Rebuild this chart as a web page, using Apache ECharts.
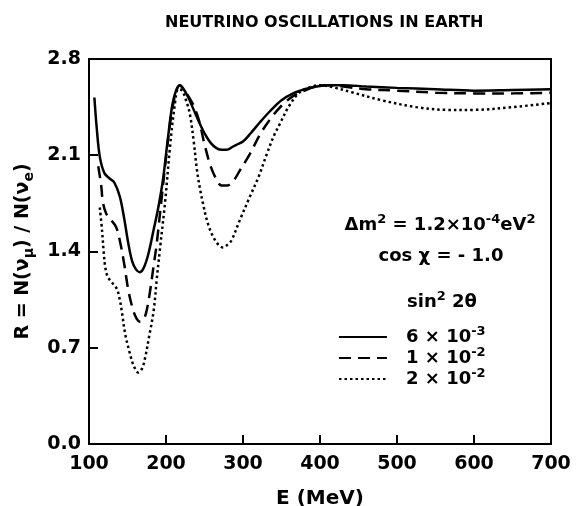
<!DOCTYPE html>
<html><head><meta charset="utf-8">
<script src="https://cdn.jsdelivr.net/npm/echarts@6/dist/echarts.min.js"></script>
<style>html,body{margin:0;padding:0;background:#fff}#c{width:576px;height:506px}</style>
</head><body><div id="c"></div>
<script>
const xTickLabels = ['100','200','300','400','500','600','700'];
const yTickLabels = ['0.0','0.7','1.4','2.1','2.8'];
const legendMant = ['6','1','2'];
const legendExp = ['-3','-2','-2'];
const seriesNames = ['6×10⁻³','1×10⁻²','2×10⁻²'];

const solidE = [107,110,114,120,127,133,140,146,151,156,161,166,171,177,184,190,196,202,208,213,218,223,229,236,243,250,258,266,273,279,286,293,300,310,322,335,350,365,380,395,410,430,460,500,550,600,650,700];
const solidR = [2.52,2.30,2.09,1.97,1.93,1.90,1.80,1.63,1.46,1.33,1.27,1.25,1.28,1.38,1.56,1.72,1.92,2.20,2.46,2.57,2.61,2.58,2.52,2.43,2.34,2.26,2.19,2.15,2.14,2.14,2.16,2.18,2.20,2.26,2.34,2.42,2.50,2.55,2.58,2.60,2.61,2.61,2.60,2.59,2.58,2.57,2.575,2.58];

const dashE = [112,114,116,118,122,127,135,140,146,151,157,162,166,170,174,179,184,188,194,200,206,212,218,224,230,236,243,250,258,266,272,279,287,296,309,322,335,350,365,380,395,410,430,460,500,550,600,650,700];
const dashR = [2.02,1.95,1.87,1.76,1.68,1.64,1.58,1.48,1.30,1.12,0.98,0.91,0.89,0.90,0.95,1.10,1.30,1.46,1.77,2.08,2.36,2.54,2.61,2.57,2.52,2.46,2.35,2.18,2.02,1.92,1.88,1.88,1.91,1.99,2.11,2.25,2.36,2.46,2.53,2.57,2.60,2.61,2.60,2.58,2.57,2.555,2.55,2.55,2.555];

const dotE = [114,117,119,121,124,129,136,140,143,147,153,158,164,169,173,178,184,188,192,199,205,211,216,221,226,231,236,240,244,248,254,261,268,274,280,285,296,309,320,331,340,348,360,374,390,400,420,440,480,525,565,600,650,700];
const dotR = [1.72,1.55,1.40,1.29,1.22,1.18,1.13,1.05,0.95,0.80,0.66,0.57,0.52,0.55,0.63,0.78,0.97,1.20,1.41,1.77,2.15,2.45,2.58,2.57,2.50,2.40,2.20,2.00,1.86,1.75,1.61,1.51,1.45,1.43,1.45,1.48,1.63,1.80,1.94,2.11,2.24,2.33,2.46,2.56,2.60,2.61,2.59,2.56,2.50,2.45,2.43,2.43,2.45,2.48];

const F = 'DejaVu Sans';
const pair = (e, r) => e.map((v, i) => [v, r[i]]);
const supRich = {
  n: {fontFamily: F, fontSize: 18, fontWeight: 'bold', color: '#000', lineHeight: 24},
  p: {fontFamily: F, fontSize: 13, fontWeight: 'bold', color: '#000', lineHeight: 13, verticalAlign: 'top'}
};
const chart = echarts.init(document.getElementById('c'));
chart.setOption({
  animation: false,
  backgroundColor: '#fff',
  title: {
    text: 'NEUTRINO OSCILLATIONS IN EARTH', left: 160, top: 10,
    textStyle: {fontFamily: F, fontSize: 16, fontWeight: 'bold', color: '#000'}
  },
  grid: {left: 89, right: 25, top: 59, bottom: 62, show: true, borderColor: '#000', borderWidth: 2,
    containLabel: false, outerBoundsMode: 'none'},
  xAxis: {
    type: 'value', min: 100, max: 700, interval: 100,
    name: 'E (MeV)', nameLocation: 'middle', nameGap: 45,
    nameTextStyle: {fontFamily: F, fontSize: 20, fontWeight: 'bold', color: '#000'},
    axisLine: {show: true, lineStyle: {color: '#000', width: 2}},
    axisTick: {show: true, inside: true, length: 9, lineStyle: {color: '#000', width: 2}},
    splitLine: {show: false},
    axisLabel: {margin: 11, fontFamily: F, fontSize: 19, fontWeight: 'bold', color: '#000',
      formatter: (v) => xTickLabels[Math.round((v - 100) / 100)]}
  },
  yAxis: {
    type: 'value', min: 0, max: 2.8, interval: 0.7,
    name: '{n|R = N(ν}{s|μ}{n|) / N(ν}{s|e}{n|)}', nameLocation: 'middle', nameGap: 50,
    nameTextStyle: {color: '#000', rich: {
      n: {fontFamily: F, fontSize: 19, fontWeight: 'bold', color: '#000', lineHeight: 26},
      s: {fontFamily: F, fontSize: 14, fontWeight: 'bold', color: '#000', lineHeight: 14, verticalAlign: 'bottom'}
    }},
    axisLine: {show: true, lineStyle: {color: '#000', width: 2}},
    axisTick: {show: true, inside: true, length: 9, lineStyle: {color: '#000', width: 2}},
    splitLine: {show: false},
    axisLabel: {margin: 8, fontFamily: F, fontSize: 19, fontWeight: 'bold', color: '#000',
      formatter: (v) => yTickLabels[Math.round(v / 0.7)]}
  },
  legend: {
    orient: 'vertical', left: 333, top: 320, itemWidth: 48, itemHeight: 14, itemGap: 0,
    itemStyle: {opacity: 0},
    textStyle: {color: '#000', padding: [0, 0, 0, 14], rich: supRich},
    formatter: (name) => {
      const i = seriesNames.indexOf(name);
      return '{n|' + legendMant[i] + ' × 10}{p|' + legendExp[i] + '}';
    },
    data: seriesNames
  },
  graphic: [
    {type: 'text', x: 440, y: 225, style: {text: '{n|Δm}{p|2}{n| = 1.2×10}{p|-4}{n|eV}{p|2}', rich: supRich, align: 'center', verticalAlign: 'middle'}},
    {type: 'text', x: 441, y: 256, style: {text: 'cos χ = - 1.0', align: 'center', verticalAlign: 'middle', font: 'bold 18px "DejaVu Sans"', fill: '#000'}},
    {type: 'text', x: 442, y: 302, style: {text: '{n|sin}{p|2}{n| 2θ}', rich: supRich, align: 'center', verticalAlign: 'middle'}}
  ],
  series: [
    {name: seriesNames[0], type: 'line', data: pair(solidE, solidR), smooth: 0.35, showSymbol: false, symbol: 'none',
      lineStyle: {color: '#000', width: 2.5, type: 'solid'}, itemStyle: {color: '#000'}},
    {name: seriesNames[1], type: 'line', data: pair(dashE, dashR), smooth: 0.35, showSymbol: false, symbol: 'none',
      lineStyle: {color: '#000', width: 2.5, type: [12, 7]}, itemStyle: {color: '#000'}},
    {name: seriesNames[2], type: 'line', data: pair(dotE, dotR), smooth: 0.35, showSymbol: false, symbol: 'none',
      lineStyle: {color: '#000', width: 2.5, type: [2.5, 3]}, itemStyle: {color: '#000'}}
  ]
});
</script></body></html>
